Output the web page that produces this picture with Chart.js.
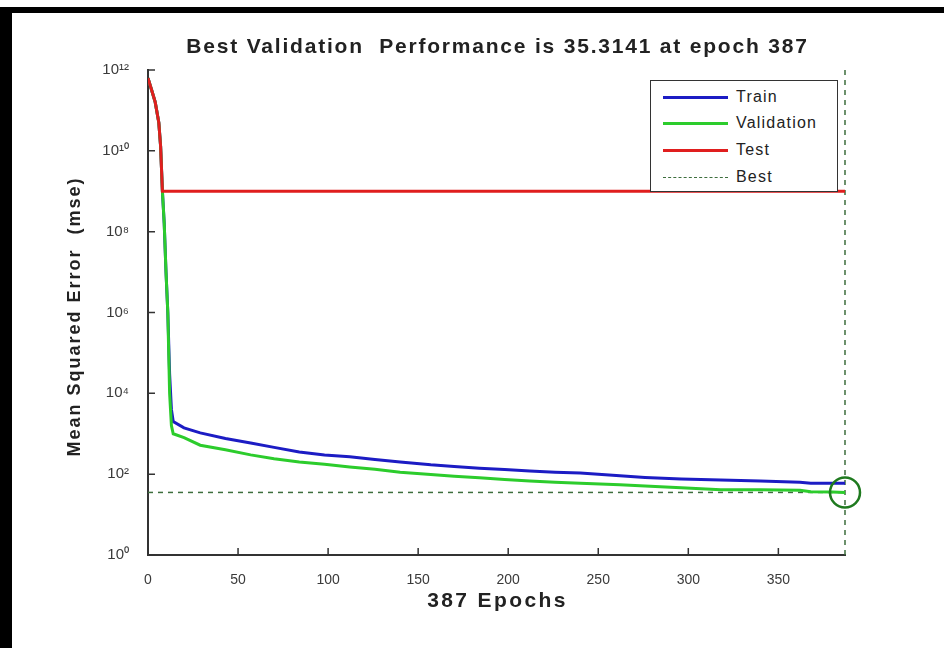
<!DOCTYPE html>
<html>
<head>
<meta charset="utf-8">
<script src="https://cdn.jsdelivr.net/npm/chart.js@4"></script>
<style>
  html, body { margin: 0; padding: 0; background: #fff; }
  #wrap { position: relative; width: 944px; height: 648px; overflow: hidden; }
  #frameTop { position: absolute; left: 0; top: 7px; width: 944px; height: 6px; background: #000; }
  #frameLeft { position: absolute; left: 0; top: 7px; width: 12px; height: 641px; background: #000; }
  #legend {
    position: absolute; left: 650px; top: 80px; width: 186px; height: 110px;
    border: 1.5px solid #333; background: #fff;
    font: 16px "Liberation Sans", Arial, sans-serif; letter-spacing: 1.2px; color: #222;
  }
  #legend .row { position: absolute; left: 12px; height: 20px; display: flex; align-items: center; }
  #legend .swatch { width: 65px; height: 0; margin-right: 8px; }
</style>
</head>
<body>
<div id="wrap">
  <canvas id="perf" width="944" height="648"></canvas>
  <div id="frameTop"></div>
  <div id="frameLeft"></div>
  <div id="legend"></div>
</div>
<script>
// ── data ──────────────────────────────────────────────
const epochs = [0, 2, 4, 6, 7, 8, 9, 10, 11, 12, 13, 14, 20, 29, 43, 57, 70, 84, 98, 112,
  126, 140, 157, 170, 184, 198, 212, 226, 240, 262, 276, 296, 318, 340, 362, 368, 380, 387];

const trainMse = [6.3e11, 3.2e11, 1.6e11, 5e10, 1.3e10, 1e9, 1.6e8, 1e7, 1e6, 3e4, 4000, 2000,
  1400, 1050, 760, 590, 460, 355, 300, 270, 230, 200, 170, 155, 140, 130, 120, 112, 107,
  91, 83, 76, 72, 68, 63, 60, 60, 60];

const validationMse = [6.3e11, 3.2e11, 1.6e11, 5e10, 1.3e10, 1e9, 1.6e8, 1e7, 1e6, 1e4, 1600, 1000,
  800, 520, 400, 300, 240, 200, 175, 150, 132, 112, 98, 89, 81, 74, 68, 63, 60,
  55, 51, 46, 41, 41, 40, 36.5, 36, 35.3141];

const testMse = [6.3e11, 3.2e11, 1.6e11, 5e10, 1.3e10, 1e9, 1e9, 1e9, 1e9, 1e9, 1e9, 1e9,
  1e9, 1e9, 1e9, 1e9, 1e9, 1e9, 1e9, 1e9, 1e9, 1e9, 1e9, 1e9, 1e9, 1e9, 1e9, 1e9, 1e9,
  1e9, 1e9, 1e9, 1e9, 1e9, 1e9, 1e9, 1e9, 1e9];

const bestEpoch = 387;
const bestPerf = 35.3141;
const xTicks = [0, 50, 100, 150, 200, 250, 300, 350];
const yTicks = [1, 1e2, 1e4, 1e6, 1e8, 1e10, 1e12];

const titleText = 'Best Validation  Performance is 35.3141 at epoch 387';
const xTitleText = '387 Epochs';
const yTitleText = 'Mean Squared Error  (mse)';

const SUP = { '0': '\u2070', '1': '\u00b9', '2': '\u00b2', '3': '\u00b3', '4': '\u2074',
  '5': '\u2075', '6': '\u2076', '7': '\u2077', '8': '\u2078', '9': '\u2079' };
const sup = n => String(n).split('').map(d => SUP[d]).join('');

const pts = arr => epochs.map((e, i) => ({ x: e, y: arr[i] }));

const FONT = '"Liberation Sans", Arial, sans-serif';

// MATLAB style ticks that point into the plot
const inwardTicks = {
  id: 'inwardTicks',
  afterDraw(c) {
    const { ctx, chartArea: a, scales: { x, y } } = c;
    ctx.save();
    ctx.strokeStyle = '#333';
    ctx.lineWidth = 1.5;
    ctx.beginPath();
    xTicks.forEach(v => {
      const px = x.getPixelForValue(v);
      ctx.moveTo(px, a.bottom); ctx.lineTo(px, a.bottom - 7);
    });
    yTicks.forEach(v => {
      const py = y.getPixelForValue(v);
      ctx.moveTo(a.left, py); ctx.lineTo(a.left + 7, py);
    });
    ctx.stroke();
    ctx.restore();
  }
};

// the titles in the picture are wide and letter-spaced, chart.js can't space text so draw them here
const spacedTitles = {
  id: 'spacedTitles',
  afterDraw(c) {
    const { ctx, chartArea: a } = c;
    const cx = (a.left + a.right) / 2;
    ctx.save();
    ctx.fillStyle = '#222';
    ctx.textAlign = 'center';
    ctx.textBaseline = 'middle';
    ctx.font = 'bold 21px ' + FONT;
    ctx.letterSpacing = '1.8px';
    ctx.fillText(titleText, cx + 1, 47);
    ctx.letterSpacing = '2.4px';
    ctx.fillText(xTitleText, cx + 1, 601);
    ctx.translate(75, (a.top + a.bottom) / 2 + 4);
    ctx.rotate(-Math.PI / 2);
    ctx.font = 'bold 18px ' + FONT;
    ctx.letterSpacing = '2px';
    ctx.fillText(yTitleText, 0, 0);
    ctx.restore();
  }
};

const chart = new Chart(document.getElementById('perf'), {
  type: 'line',
  data: {
    datasets: [
      { label: 'Train', data: pts(trainMse), borderColor: '#1c1cc4', borderWidth: 3, order: 4 },
      { label: 'Validation', data: pts(validationMse), borderColor: '#2ccc2c', borderWidth: 3, order: 3 },
      { label: 'Test', data: pts(testMse), borderColor: '#e01e1e', borderWidth: 3, order: 2 },
      { label: 'Best', data: [{ x: 0, y: bestPerf }, { x: bestEpoch, y: bestPerf }],
        borderColor: '#3d6e3d', borderWidth: 1.5, borderDash: [5, 5], order: 5 },
      { label: 'bestV', data: [{ x: bestEpoch, y: 1 }, { x: bestEpoch, y: 1e12 }],
        borderColor: '#3d6e3d', borderWidth: 1.5, borderDash: [5, 5], order: 5, clip: false },
      { label: 'bestCircle', data: [{ x: bestEpoch, y: bestPerf }], showLine: false,
        pointRadius: 15, pointBorderWidth: 2.5, pointBorderColor: '#1f7a1f',
        pointBackgroundColor: 'rgba(0,0,0,0)', order: 1, clip: false }
    ]
  },
  options: {
    responsive: false,
    animation: false,
    devicePixelRatio: 1,
    elements: { line: { tension: 0, fill: false }, point: { radius: 0 } },
    layout: { padding: { left: 62, right: 99, top: 70, bottom: 33 } },
    plugins: {
      legend: { display: false },
      tooltip: { enabled: false },
      title: { display: false }
    },
    scales: {
      x: {
        type: 'linear', min: 0, max: 387,
        afterBuildTicks: s => { s.ticks = xTicks.map(v => ({ value: v })); },
        afterFit: s => { s.height = 60; },
        grid: { display: false },
        border: { color: '#333', width: 2 },
        ticks: { color: '#3a3a3a', padding: 9, font: { family: FONT, size: 14 }, maxRotation: 0 }
      },
      y: {
        type: 'logarithmic', min: 1, max: 1e12,
        afterBuildTicks: s => { s.ticks = yTicks.map(v => ({ value: v })); },
        afterFit: s => { s.width = 86; },
        grid: { display: false },
        border: { color: '#333', width: 2 },
        ticks: { color: '#3a3a3a', padding: 11, font: { family: FONT, size: 15 },
          callback: v => '10' + sup(Math.round(Math.log10(v))) }
      }
    }
  },
  plugins: [inwardTicks, spacedTitles]
});

// legend box like the MATLAB one, built from the datasets
const legendRows = [0, 1, 2, 3];
const rowTops = [86, 112, 139, 166];
const legend = document.getElementById('legend');
legendRows.forEach((di, k) => {
  const ds = chart.data.datasets[di];
  const row = document.createElement('div');
  row.className = 'row';
  row.style.top = (rowTops[k] - 80) + 'px';
  const sw = document.createElement('span');
  sw.className = 'swatch';
  sw.style.borderTop = (ds.borderDash ? '1.5px dashed ' : '3px solid ') + ds.borderColor;
  const tx = document.createElement('span');
  tx.textContent = ds.label;
  row.appendChild(sw); row.appendChild(tx);
  legend.appendChild(row);
});
</script>
</body>
</html>
